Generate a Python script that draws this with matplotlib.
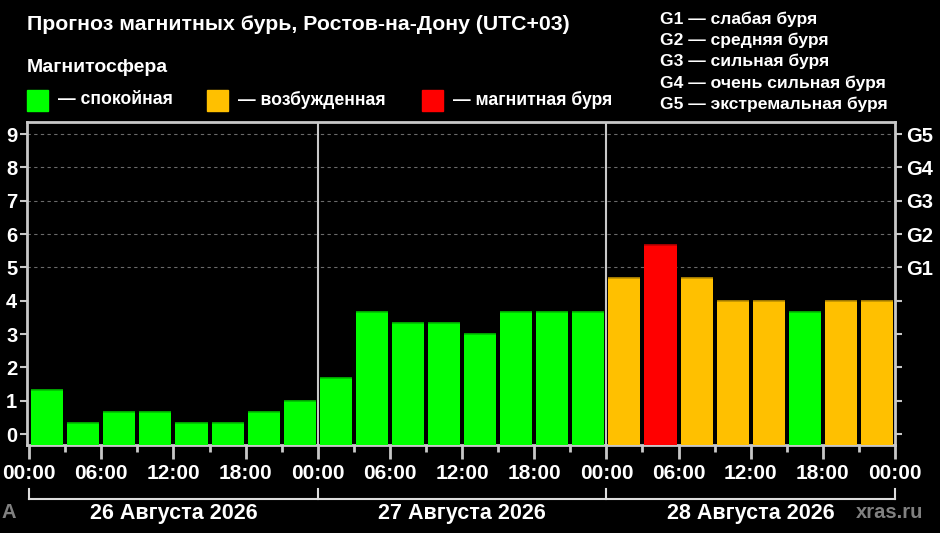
import matplotlib
matplotlib.use('Agg')
import matplotlib.pyplot as plt
import numpy as np

plt.rcParams['font.family'] = ['Liberation Sans', 'DejaVu Sans']
plt.rcParams['font.weight'] = 'bold'

# значения Kp по 3-часовым интервалам
kp = [1.33, 0.33, 0.67, 0.67, 0.33, 0.33, 0.67, 1.0,
      1.67, 3.67, 3.33, 3.33, 3.0, 3.67, 3.67, 3.67,
      4.67, 5.67, 4.67, 4.0, 4.0, 3.67, 4.0, 4.0]
days = ['26 Августа 2026', '27 Августа 2026', '28 Августа 2026']
hour_labels = ['00:00', '06:00', '12:00', '18:00']
g_labels = ['G1', 'G2', 'G3', 'G4', 'G5']
g_text = ['G1 — слабая буря', 'G2 — средняя буря', 'G3 — сильная буря',
          'G4 — очень сильная буря', 'G5 — экстремальная буря']
legend_names = ['— спокойная', '— возбужденная', '— магнитная буря']

GREEN = '#00ff00'
YELLOW = '#ffc000'
RED = '#ff0000'
GREY = '#c8c8c8'


def kolor(v):
    if v >= 5:
        return RED
    if v >= 4:
        return YELLOW
    return GREEN


def ciemniejszy(c):
    r, g, b = matplotlib.colors.to_rgb(c)
    return (r * 0.75, g * 0.75, b * 0.75)


W, H = 940, 533
fig = plt.figure(figsize=(W / 100, H / 100), dpi=100, facecolor='black')
ax = fig.add_axes([27 / W, (H - 445) / H, (895 - 27) / W, (445 - 122) / H])
ax.set_facecolor('black')

ylo, yhi = -0.33, 9.36
ax.set_ylim(ylo, yhi)
ax.set_xlim(-0.06, 24.0)

x = np.arange(len(kp)) + 0.5
cols = [kolor(v) for v in kp]
heights = [v - ylo for v in kp]
ax.bar(x, heights, bottom=ylo, width=0.89, color=cols, zorder=3)
ax.hlines(kp, x - 0.445, x + 0.445, colors=[ciemniejszy(c) for c in cols],
          linewidth=1.2, zorder=4)

# сетка
for yv in range(5, 10):
    ax.axhline(yv, color='#6a6a6a', linestyle=(0, (3, 3)), linewidth=0.8, zorder=1)

# разделители дней
for d in (8, 16):
    ax.axvline(d, color=GREY, linewidth=1.5, zorder=5)

for s in ax.spines.values():
    s.set_color(GREY)
    s.set_linewidth(2)

ax.set_yticks(range(10))
ax.set_yticklabels([str(i) for i in range(10)])
ax.tick_params(axis='y', colors=GREY, length=5, width=1.5, pad=2,
               labelcolor='white', labelsize=14.5)

ax2 = ax.twinx()
ax2.set_ylim(ylo, yhi)
ax2.set_yticks(range(10))
ax2.set_yticklabels([''] * 5 + g_labels)
ax2.tick_params(axis='y', colors=GREY, length=5, width=1.5, pad=3,
                labelcolor='white', labelsize=14.5)
for s in ax2.spines.values():
    s.set_visible(False)

ax.set_xticks(np.arange(0, 25, 2))
ax.set_xticklabels((hour_labels * 3) + ['00:00'])
ax.set_xticks(np.arange(1, 24, 2), minor=True)
ax.tick_params(axis='x', which='major', colors=GREY, length=10, width=2,
               pad=4, labelcolor='white', labelsize=15)
ax.tick_params(axis='x', which='minor', colors=GREY, length=5, width=2)

# скобки под датами
def fx(xd):
    return ax.transData.transform((xd, 0))[0] / W

fig.canvas.draw()
yline = (H - 499) / H
ytop = (H - 489) / H
fig.add_artist(plt.Line2D([fx(0), fx(24)], [yline, yline], color='#dddddd', linewidth=1.5))
for d in (0, 8, 16, 24):
    fig.add_artist(plt.Line2D([fx(d), fx(d)], [yline, ytop], color='#dddddd', linewidth=1.5))
for i, day in enumerate(days):
    fig.text(fx(8 * i + 4), (H - 513) / H, day, color='white', fontsize=15.5,
             ha='center', va='center')

fig.text(1 / W, (H - 513) / H, 'A', color='#808080', fontsize=14.5, va='center')
fig.text(923 / W, (H - 513) / H, 'xras.ru', color='#808080', fontsize=14.5,
         va='center', ha='right')

# заголовки
fig.text(27 / W, (H - 25) / H, 'Прогноз магнитных бурь, Ростов-на-Дону (UTC+03)',
         color='white', fontsize=15.3, va='center')
fig.text(27 / W, (H - 67) / H, 'Магнитосфера', color='white', fontsize=14, va='center')

leg_x = [27, 207, 422]
for lx, c, name in zip(leg_x, [GREEN, YELLOW, RED], legend_names):
    fig.add_artist(matplotlib.patches.Rectangle((lx / W, (H - 111) / H), 21 / W, 21 / H,
                                                color=c, transform=fig.transFigure))
    fig.text((lx + 31) / W, (H - 100) / H, name, color='white', fontsize=12.7, va='center')

for i, t in enumerate(g_text):
    fig.text(660 / W, (H - (19 + 21.3 * i)) / H, t, color='white', fontsize=12.6, va='center')

fig.savefig('out.png', dpi=100, facecolor='black')
